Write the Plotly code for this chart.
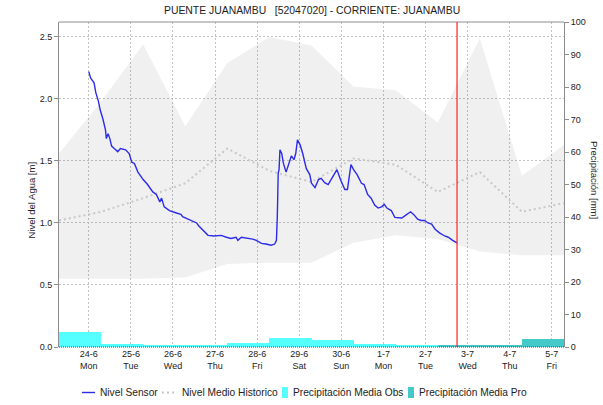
import pandas as pd
import plotly.graph_objects as go

# ---------------------------------------------------------------- data
TITLE = "PUENTE JUANAMBU\u00a0\u00a0\u00a0[52047020] - CORRIENTE: JUANAMBU"

# historical envelope and mean level, one value per day at 07:00
band_days = pd.date_range("2024-06-23 07:00", "2024-07-05 07:00", freq="D")
hist_max = [1.56, 1.98, 2.44, 1.78, 2.29, 2.50, 2.43, 2.10, 2.07, 1.81, 2.49, 1.38, 1.63]
hist_min = [0.55, 0.55, 0.55, 0.56, 0.67, 0.68, 0.68, 0.84, 0.90, 0.87, 0.77, 0.74, 0.74]
hist_mean = [1.02, 1.09, 1.20, 1.32, 1.60, 1.42, 1.33, 1.52, 1.47, 1.25, 1.41, 1.09, 1.16]

# sensor readings: hours after 24-6 00:00 and water level [m]
sensor_start = pd.Timestamp("2024-06-24 00:00")
sensor_hours = [0, 1, 3, 4, 5.5, 6.5, 8, 9.5, 10, 11, 12, 13, 14.5, 16.5, 18, 21, 23,
                24.5, 26, 28, 31, 33.5, 36.5, 38.5, 40.5, 41.5, 43, 46, 50, 52.5, 53.5,
                58.5, 61.5, 62.5, 65, 68, 71.5, 75.5, 78.5, 81, 84, 85, 87, 90.5, 93.5,
                95.5, 98.5, 101, 104, 106, 107, 107.5, 108, 108.5, 109, 110, 111, 112.5,
                114, 115.5, 117, 118, 119, 120.5, 122, 124, 126, 127, 129, 131, 132.5,
                134.5, 136.5, 139, 141.5, 143.5, 146, 147.5, 149.5, 151, 153, 155.5, 157,
                159, 161, 163, 165, 167, 168.5, 170, 172.5, 174.5, 176, 178.5, 181, 183.5,
                185.5, 187.5, 189.5, 191.5, 193.5, 195.5, 197.5, 200, 203, 205, 207.5, 210]
sensor_level = [2.22, 2.17, 2.13, 2.05, 1.98, 1.91, 1.84, 1.75, 1.68, 1.72, 1.68, 1.62, 1.60,
                1.575, 1.60, 1.59, 1.56, 1.49, 1.48, 1.41, 1.35, 1.31, 1.25, 1.23, 1.17, 1.20,
                1.13, 1.10, 1.08, 1.07, 1.05, 1.02, 1.00, 0.98, 0.94, 0.90, 0.895, 0.90, 0.885,
                0.875, 0.885, 0.86, 0.885, 0.88, 0.87, 0.86, 0.835, 0.83, 0.82, 0.83, 0.86,
                1.05, 1.40, 1.43, 1.59, 1.56, 1.48, 1.41, 1.48, 1.54, 1.51, 1.56, 1.67, 1.63,
                1.56, 1.44, 1.39, 1.32, 1.285, 1.35, 1.36, 1.325, 1.31, 1.37, 1.43, 1.35, 1.27,
                1.27, 1.47, 1.43, 1.39, 1.32, 1.31, 1.23, 1.20, 1.145, 1.12, 1.13, 1.15, 1.12,
                1.10, 1.045, 1.045, 1.04, 1.065, 1.09, 1.065, 1.03, 1.02, 1.02, 1.00, 0.99,
                0.95, 0.92, 0.895, 0.885, 0.86, 0.84]

# daily rainfall totals, 07:00 to 07:00 windows (centred at 19:00)
precip_days = pd.date_range("2024-06-23 19:00", periods=12, freq="D")
precip_obs = [4.5, 0.9, 0.6, 0.5, 1.3, 2.8, 2.2, 0.9, 0.6, None, None, None]
precip_pro = [None, None, None, None, None, None, None, None, None, 0.7, 0.7, 2.5]

tick_days = pd.date_range("2024-06-24", "2024-07-05", freq="D")
tick_labels = ["24-6<br>Mon", "25-6<br>Tue", "26-6<br>Wed", "27-6<br>Thu", "28-6<br>Fri",
               "29-6<br>Sat", "30-6<br>Sun", "1-7<br>Mon", "2-7<br>Tue", "3-7<br>Wed",
               "4-7<br>Thu", "5-7<br>Fri"]
now_time = pd.Timestamp("2024-07-02 18:00")

legend_names = ["Nivel Sensor", "Nivel Medio Historico",
                "Precipitación Media Obs", "Precipitación Media Pro"]

# ---------------------------------------------------------------- styling
FONT = "Liberation Sans, Arial, sans-serif"
TXT = "#222222"
GRID = "#c4c4c4"
AXIS = "#8c8c8c"
C_SENSOR = "#2b2bea"
C_MEAN = "#c8c8c8"
C_BAND = "rgba(0,0,0,0.06)"
C_OBS = "#55ffff"
C_PRO = "#44c8c8"

W, H = 603, 405
ML, MR, MT, MB = 59, 39, 22, 58
PW, PH = W - ML - MR, H - MT - MB


def px_x(px):
    return (px - ML) / PW


def px_y(py):
    return (H - MB - py) / PH


sensor_times = [sensor_start + pd.Timedelta(hours=h) for h in sensor_hours]

fig = go.Figure()

# historical range band
fig.add_trace(go.Scatter(x=band_days, y=hist_min, mode="lines", line=dict(width=0),
                         hoverinfo="skip", showlegend=False))
fig.add_trace(go.Scatter(x=band_days, y=hist_max, mode="lines", line=dict(width=0),
                         fill="tonexty", fillcolor=C_BAND, hoverinfo="skip",
                         showlegend=False))
# historical mean
fig.add_trace(go.Scatter(x=band_days, y=hist_mean, mode="lines", name=legend_names[1],
                         line=dict(color=C_MEAN, width=2, dash="2px,3px"),
                         showlegend=False))
# sensor level
fig.add_trace(go.Scatter(x=sensor_times, y=sensor_level, mode="lines", name=legend_names[0],
                         line=dict(color=C_SENSOR, width=1.4), showlegend=False))
# rainfall bars on the right axis
fig.add_trace(go.Bar(x=precip_days, y=precip_obs, width=86400000, name=legend_names[2],
                     marker=dict(color=C_OBS, line=dict(width=0)), yaxis="y2",
                     showlegend=False))
fig.add_trace(go.Bar(x=precip_days, y=precip_pro, width=86400000, name=legend_names[3],
                     marker=dict(color=C_PRO, line=dict(width=0)), yaxis="y2",
                     showlegend=False))

shapes = [
    # top frame
    dict(type="line", xref="paper", yref="paper", x0=0, x1=1, y0=1, y1=1,
         line=dict(color=AXIS, width=1), layer="above"),
    # bottom axis
    dict(type="line", xref="paper", yref="paper", x0=0, x1=1, y0=0, y1=0,
         line=dict(color="#444444", width=1, dash="1px,1px"), layer="above"),
    # current time marker
    dict(type="line", xref="x", yref="paper", x0=now_time, x1=now_time, y0=0, y1=1,
         line=dict(color="#ff2020", width=1.2), layer="above"),
]

annotations = [
    dict(text=TITLE, xref="paper", yref="paper", x=0.5, y=px_y(10), showarrow=False,
         xanchor="center", yanchor="middle", font=dict(family=FONT, size=10.4, color=TXT)),
    dict(text="Nivel del Agua [m]", xref="paper", yref="paper", x=px_x(30.5), y=px_y(200),
         showarrow=False, textangle=-90, xanchor="center", yanchor="middle",
         font=dict(family=FONT, size=9.5, color=TXT)),
    dict(text="Precipitación [mm]", xref="paper", yref="paper", x=px_x(595), y=px_y(180),
         showarrow=False, textangle=90, xanchor="center", yanchor="middle",
         font=dict(family=FONT, size=9.5, color=TXT)),
]

# legend row
LEG_Y = 392.5
leg_font = dict(family=FONT, size=10.2, color=TXT)
shapes.append(dict(type="line", xref="paper", yref="paper", x0=px_x(82), x1=px_x(95),
                   y0=px_y(LEG_Y), y1=px_y(LEG_Y), line=dict(color=C_SENSOR, width=1.4)))
shapes.append(dict(type="line", xref="paper", yref="paper", x0=px_x(162), x1=px_x(176),
                   y0=px_y(LEG_Y), y1=px_y(LEG_Y),
                   line=dict(color=C_MEAN, width=2, dash="2px,3px")))
shapes.append(dict(type="rect", xref="paper", yref="paper", x0=px_x(282), x1=px_x(288),
                   y0=px_y(387), y1=px_y(398), line=dict(width=0), fillcolor=C_OBS))
shapes.append(dict(type="rect", xref="paper", yref="paper", x0=px_x(408), x1=px_x(414),
                   y0=px_y(387), y1=px_y(398), line=dict(width=0), fillcolor=C_PRO))
for name, px in zip(legend_names, [97.5, 180, 290.5, 416.5]):
    annotations.append(dict(text=name, xref="paper", yref="paper", x=px_x(px),
                            y=px_y(LEG_Y), showarrow=False, xanchor="left",
                            yanchor="middle", font=leg_font))

fig.update_layout(
    width=W, height=H,
    margin=dict(l=ML, r=MR, t=MT, b=MB, pad=0),
    paper_bgcolor="white", plot_bgcolor="white",
    barmode="overlay", bargap=0,
    showlegend=False,
    font=dict(family=FONT, size=9, color=TXT),
    shapes=shapes, annotations=annotations,
    xaxis=dict(type="date",
               range=[band_days[0], band_days[-1]],
               tickmode="array", tickvals=tick_days, ticktext=tick_labels,
               showgrid=True, gridcolor=GRID, griddash="2px,2px", gridwidth=1,
               ticks="", showline=False, zeroline=False,
               tickfont=dict(family=FONT, size=9, color=TXT)),
    yaxis=dict(range=[0, 2.62], tickmode="array",
               tickvals=[0, 0.5, 1.0, 1.5, 2.0, 2.5],
               ticktext=["0.0", "0.5", "1.0", "1.5", "2.0", "2.5"],
               showgrid=True, gridcolor=GRID, griddash="2px,2px", gridwidth=1,
               ticks="outside", ticklen=4, tickcolor=AXIS,
               showline=True, linecolor=AXIS, linewidth=1, zeroline=False,
               tickfont=dict(family=FONT, size=9, color=TXT)),
    yaxis2=dict(range=[0, 100], dtick=10, overlaying="y", side="right",
                showgrid=False, ticks="outside", ticklen=4, tickcolor=AXIS,
                showline=True, linecolor=AXIS, linewidth=1, zeroline=False,
                tickfont=dict(family=FONT, size=9, color=TXT)),
)

fig.write_html("out.html")
